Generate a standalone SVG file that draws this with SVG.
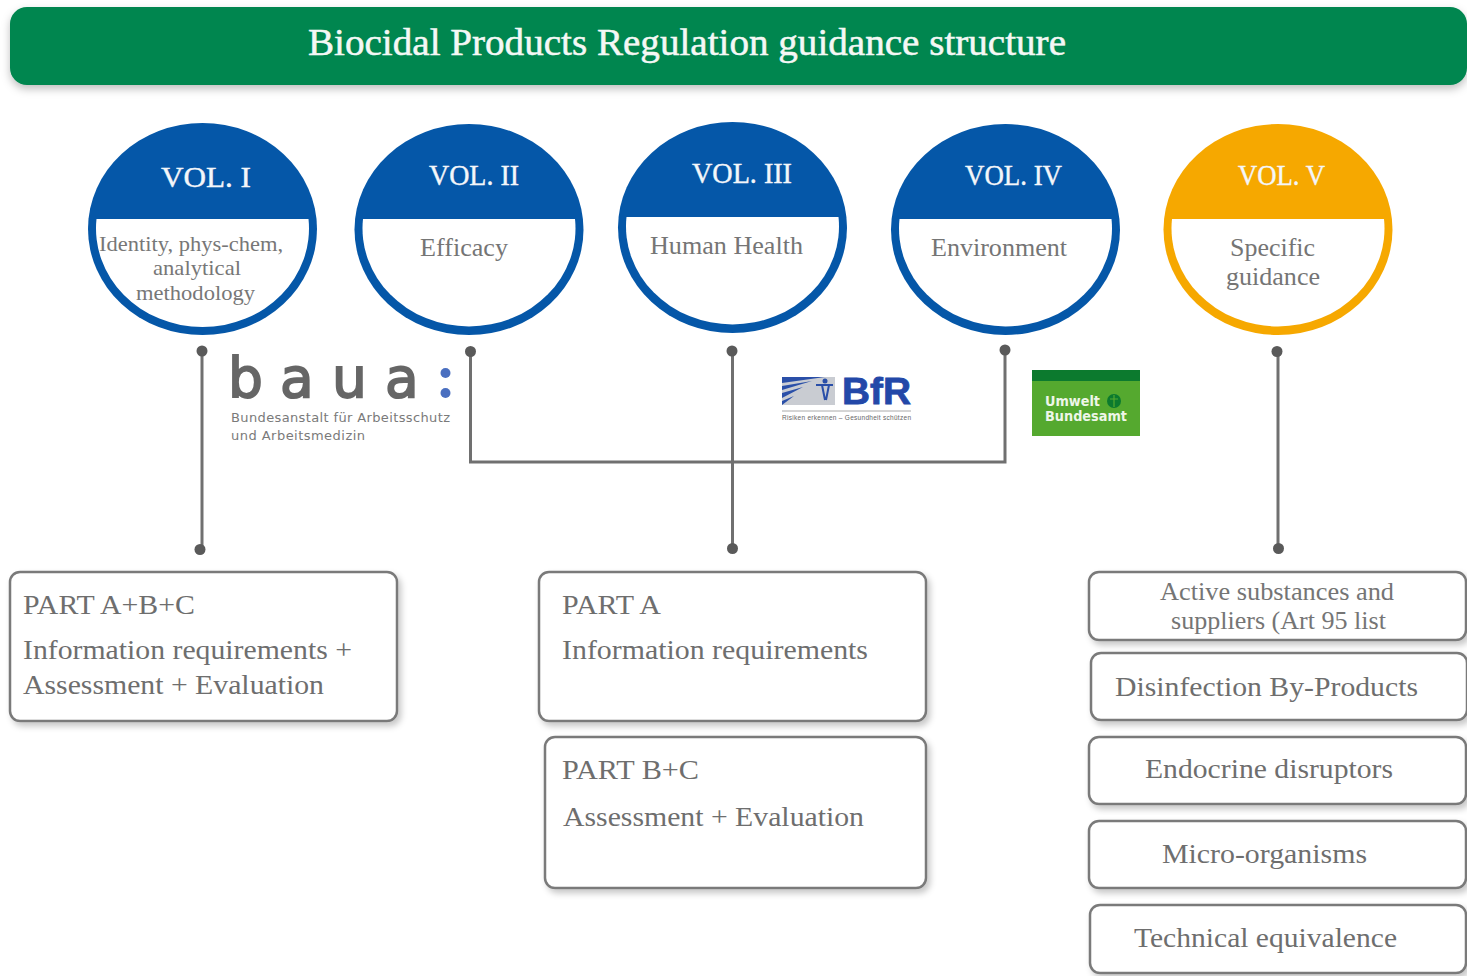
<svg xmlns="http://www.w3.org/2000/svg" width="1467" height="976" viewBox="0 0 1467 976">
<defs>
<filter id="sh" x="-5%" y="-10%" width="110%" height="125%"><feDropShadow dx="3" dy="4" stdDeviation="3" flood-color="#000" flood-opacity="0.22"/></filter>
<filter id="shb" x="-5%" y="-20%" width="110%" height="150%"><feDropShadow dx="0" dy="4" stdDeviation="4" flood-color="#000" flood-opacity="0.25"/></filter>
</defs>
<style>
text{font-family:"Liberation Serif","Times New Roman",serif}
.box{fill:#fff;stroke:#7a7a7a;stroke-width:2.5;filter:url(#sh)}
.t{fill:#6e6e6e;font-size:27px}
.m{fill:#757575;font-size:25px}
.c{fill:#777;font-size:22px}
.v{fill:#f4f6fa;font-size:30px;stroke:#f4f6fa;stroke-width:.4}
.blue{fill:#0557a8}
.or{fill:#f6a800}
.w{fill:#fff}
.ln{fill:none;stroke:#707070;stroke-width:3}
.dot{fill:#5a5a5a}
</style>
<g id="banner">
<rect x="10" y="7" width="1457" height="78" rx="17" fill="#04864f" filter="url(#shb)"/>
<text x="308" y="55" fill="#f4f8f5" stroke="#f4f8f5" stroke-width=".5" font-size="37" textLength="758" lengthAdjust="spacingAndGlyphs">Biocidal Products Regulation guidance structure</text>
</g>
<g id="vol1">
<ellipse class="blue" cx="202.500" cy="229" rx="114.500" ry="106"/>
<path class="w" d="M96.500 219A106.500 98.500 0 1 0 308.500 219Z"/>
<text class="v" x="161" y="187" textLength="90" lengthAdjust="spacingAndGlyphs">VOL. I</text>
<text class="c" x="99" y="251" textLength="184" lengthAdjust="spacingAndGlyphs">Identity, phys-chem,</text>
<text class="c" x="153" y="275" textLength="88" lengthAdjust="spacingAndGlyphs">analytical</text>
<text class="c" x="136" y="300" textLength="119" lengthAdjust="spacingAndGlyphs">methodology</text>
</g>
<g id="vol2">
<ellipse class="blue" cx="469" cy="229.500" rx="114.500" ry="105.500"/>
<path class="w" d="M363 219A106.500 98 0 1 0 575 219Z"/>
<text class="v" x="429" y="185" textLength="90" lengthAdjust="spacingAndGlyphs">VOL. II</text>
<text class="m" x="420" y="256" textLength="88" lengthAdjust="spacingAndGlyphs">Efficacy</text>
</g>
<g id="vol3">
<ellipse class="blue" cx="732.500" cy="227.500" rx="114.500" ry="105.500"/>
<path class="w" d="M626.500 217A106.500 98 0 1 0 838.500 217Z"/>
<text class="v" x="692" y="183" textLength="100" lengthAdjust="spacingAndGlyphs">VOL. III</text>
<text class="m" x="650" y="254" textLength="153" lengthAdjust="spacingAndGlyphs">Human Health</text>
</g>
<g id="vol4">
<ellipse class="blue" cx="1005.500" cy="229.500" rx="114.500" ry="105.500"/>
<path class="w" d="M899.500 219A106.500 98 0 1 0 1111.500 219Z"/>
<text class="v" x="965" y="185" textLength="97" lengthAdjust="spacingAndGlyphs">VOL. IV</text>
<text class="m" x="931" y="256" textLength="136" lengthAdjust="spacingAndGlyphs">Environment</text>
</g>
<g id="vol5">
<ellipse class="or" cx="1278" cy="229.500" rx="114.500" ry="105.500"/>
<path class="w" d="M1172 219A106.500 98 0 1 0 1384 219Z"/>
<text class="v" x="1238" y="185" textLength="87" lengthAdjust="spacingAndGlyphs">VOL. V</text>
<text class="m" x="1230" y="256" textLength="85" lengthAdjust="spacingAndGlyphs">Specific</text>
<text class="m" x="1226" y="285" textLength="94" lengthAdjust="spacingAndGlyphs">guidance</text>
</g>
<g id="connectors">
<path class="ln" d="M202 351V549"/>
<path class="ln" d="M470.500 351V462H1005V350"/>
<path class="ln" d="M732.500 351V548"/>
<path class="ln" d="M1278 351V548"/>
<g class="dot">
<circle cx="202" cy="351" r="5.500"/><circle cx="200" cy="549.500" r="5.500"/>
<circle cx="470.500" cy="351.500" r="5.500"/><circle cx="1005" cy="350" r="5.500"/>
<circle cx="732" cy="351" r="5.500"/><circle cx="732.500" cy="548.500" r="5.500"/>
<circle cx="1277" cy="351.500" r="5.500"/><circle cx="1278.500" cy="548.500" r="5.500"/>
</g>
</g>
<g id="logo-baua">
<text x="228 280 332 385" y="397" fill="#666" stroke="#666" stroke-width="1.800" font-size="55" style="font-family:'DejaVu Sans',sans-serif">baua</text>
<circle cx="445.500" cy="373" r="5" fill="#4a6fc0"/><circle cx="445.500" cy="393" r="5" fill="#4a6fc0"/>
<text x="231" y="422" fill="#7a7a7a" font-size="13" textLength="219" lengthAdjust="spacing" style="font-family:'DejaVu Sans',sans-serif">Bundesanstalt für Arbeitsschutz</text>
<text x="231" y="440" fill="#7a7a7a" font-size="13" textLength="134" lengthAdjust="spacing" style="font-family:'DejaVu Sans',sans-serif">und Arbeitsmedizin</text>
</g>
<g id="logo-bfr">
<rect x="782" y="377" width="53" height="28" fill="#c9ccd2"/>
<path d="M782 377H825L782 383Z M782 386L812 381L782 390Z M782 393L803 387L782 398Z M782 401L794 396L782 405Z" fill="#2a4fa8"/>
<path d="M816 385H833M822 385L825 400M829 385L826 400" stroke="#2a4fa8" stroke-width="2" fill="none"/>
<circle cx="825" cy="381" r="2.500" fill="#2a4fa8"/>
<text x="842" y="404" fill="#2348a8" stroke="#2348a8" stroke-width=".8" font-size="37" font-weight="bold" textLength="69" lengthAdjust="spacingAndGlyphs" style="font-family:'Liberation Sans',Arial,sans-serif">BfR</text>
<path d="M782 411H911" stroke="#aaa" stroke-width="1"/>
<text x="782" y="420" fill="#666" font-size="6.500" textLength="129" style="font-family:'Liberation Sans',Arial,sans-serif">Risiken erkennen – Gesundheit schützen</text>
</g>
<g id="logo-uba">
<rect x="1032" y="370" width="108" height="66" fill="#55a92f"/>
<rect x="1032" y="370" width="108" height="11" fill="#0c7a2e"/>
<text x="1045" y="406" fill="#eef6e8" font-size="14" font-weight="bold" textLength="55" lengthAdjust="spacingAndGlyphs" style="font-family:'DejaVu Sans',sans-serif">Umwelt</text>
<text x="1045" y="421" fill="#eef6e8" font-size="14" font-weight="bold" textLength="82" lengthAdjust="spacingAndGlyphs" style="font-family:'DejaVu Sans',sans-serif">Bundesamt</text>
<circle cx="1114" cy="401" r="7" fill="#0c7a2e"/>
<path d="M1114 395V407M1110 399H1118" stroke="#55a92f" stroke-width="1.200"/>
</g>
<g id="box-a">
<rect class="box" x="10" y="572" width="387" height="149" rx="10"/>
<text class="t" x="23" y="614" textLength="172" lengthAdjust="spacingAndGlyphs">PART A+B+C</text>
<text class="t" x="23" y="659" textLength="329" lengthAdjust="spacingAndGlyphs">Information requirements +</text>
<text class="t" x="23" y="694" textLength="301" lengthAdjust="spacingAndGlyphs">Assessment + Evaluation</text>
</g>
<g id="box-b">
<rect class="box" x="539" y="572" width="387" height="149" rx="10"/>
<text class="t" x="562" y="614" textLength="99" lengthAdjust="spacingAndGlyphs">PART A</text>
<text class="t" x="562" y="659" textLength="306" lengthAdjust="spacingAndGlyphs">Information requirements</text>
</g>
<g id="box-c">
<rect class="box" x="545" y="737" width="381" height="151" rx="10"/>
<text class="t" x="562" y="779" textLength="137" lengthAdjust="spacingAndGlyphs">PART B+C</text>
<text class="t" x="563" y="826" textLength="301" lengthAdjust="spacingAndGlyphs">Assessment + Evaluation</text>
</g>
<g id="box-r1">
<rect class="box" x="1089" y="572" width="377" height="68" rx="10"/>
<text class="m" x="1160" y="600" textLength="234" lengthAdjust="spacingAndGlyphs">Active substances and</text>
<text class="m" x="1171" y="629" textLength="215" lengthAdjust="spacingAndGlyphs">suppliers (Art 95 list</text>
</g>
<g id="box-r2">
<rect class="box" x="1091" y="653" width="376" height="67" rx="10"/>
<text class="t" x="1115" y="696" textLength="303" lengthAdjust="spacingAndGlyphs">Disinfection By-Products</text>
</g>
<g id="box-r3">
<rect class="box" x="1089" y="737" width="377" height="67" rx="10"/>
<text class="t" x="1145" y="778" textLength="248" lengthAdjust="spacingAndGlyphs">Endocrine disruptors</text>
</g>
<g id="box-r4">
<rect class="box" x="1089" y="821" width="377" height="67" rx="10"/>
<text class="t" x="1162" y="863" textLength="205" lengthAdjust="spacingAndGlyphs">Micro-organisms</text>
</g>
<g id="box-r5">
<rect class="box" x="1090" y="905" width="376" height="68" rx="10"/>
<text class="t" x="1134" y="947" textLength="263" lengthAdjust="spacingAndGlyphs">Technical equivalence</text>
</g>
</svg>
